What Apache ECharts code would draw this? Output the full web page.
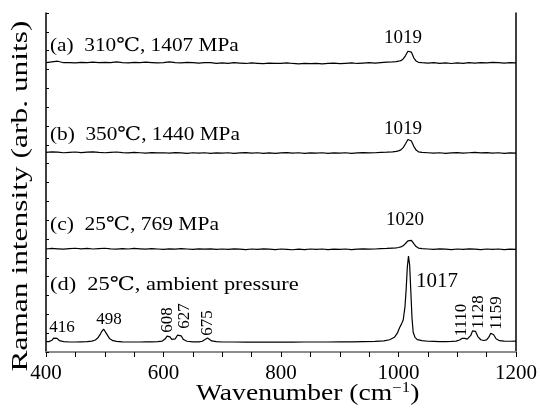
<!DOCTYPE html>
<html>
<head>
<meta charset="utf-8">
<script src="https://cdn.jsdelivr.net/npm/echarts@6/dist/echarts.min.js"></script>
<style>
  html, body { margin: 0; padding: 0; background: #fff; }
  #ramanChart { width: 540px; height: 410px; }
</style>
</head>
<body>
<div id="ramanChart"></div>
<script>
  // wavenumber grid shared by traces (a)-(c)
  const wnTop = [
    400, 410, 420, 430, 440, 450, 460, 470, 480, 490,
    500, 510, 520, 530, 540, 550, 560, 570, 580, 590,
    600, 610, 620, 630, 640, 650, 660, 670, 680, 690,
    700, 710, 720, 730, 740, 750, 760, 770, 780, 790,
    800, 810, 820, 830, 840, 850, 860, 870, 880, 890,
    900, 910, 920, 930, 940, 950, 960, 970, 980, 990,
    996, 1000, 1004, 1008, 1012, 1016, 1019, 1022, 1026, 1030, 1034, 1040,
    1050, 1060, 1070, 1080, 1090, 1100, 1110, 1120, 1130, 1140, 1150, 1160, 1170, 1180, 1190, 1200
  ];

  // (a) 310℃, 1407 MPa
  const traceA = [
    15.36, 15.40, 15.44, 15.36, 15.37, 15.35, 15.38, 15.36, 15.39, 15.37,
    15.38, 15.36, 15.40, 15.37, 15.35, 15.38, 15.36, 15.39, 15.37, 15.35,
    15.36, 15.40, 15.37, 15.35, 15.38, 15.36, 15.34, 15.37, 15.36, 15.33,
    15.35, 15.33, 15.36, 15.34, 15.32, 15.35, 15.33, 15.31, 15.34, 15.32,
    15.33, 15.35, 15.32, 15.30, 15.33, 15.31, 15.33, 15.30, 15.32, 15.34,
    15.31, 15.33, 15.35, 15.32, 15.34, 15.36, 15.34, 15.37, 15.39, 15.40,
    15.42, 15.44, 15.47, 15.56, 15.74, 15.97, 16.04, 15.92, 15.62, 15.45, 15.38, 15.36,
    15.34, 15.36, 15.33, 15.35, 15.32, 15.35, 15.33, 15.36, 15.34, 15.37, 15.35, 15.38, 15.36, 15.34, 15.36, 15.35
  ];

  // (b) 350℃, 1440 MPa
  const traceB = [
    10.60, 10.63, 10.61, 10.58, 10.60, 10.62, 10.59, 10.61, 10.63, 10.60,
    10.58, 10.60, 10.62, 10.59, 10.57, 10.60, 10.58, 10.56, 10.59, 10.57,
    10.58, 10.56, 10.59, 10.57, 10.55, 10.58, 10.56, 10.58, 10.55, 10.57,
    10.56, 10.58, 10.55, 10.57, 10.59, 10.56, 10.58, 10.55, 10.57, 10.55,
    10.57, 10.59, 10.56, 10.58, 10.55, 10.57, 10.56, 10.58, 10.55, 10.57,
    10.56, 10.58, 10.55, 10.57, 10.59, 10.57, 10.58, 10.60, 10.61, 10.63,
    10.65, 10.68, 10.73, 10.85, 11.06, 11.28, 11.33, 11.20, 10.92, 10.72, 10.63, 10.60,
    10.58, 10.56, 10.58, 10.55, 10.57, 10.59, 10.56, 10.58, 10.60, 10.57, 10.59, 10.56, 10.58, 10.55, 10.57, 10.56
  ];

  // (c) 25℃, 769 MPa
  const traceC = [
    5.47, 5.50, 5.48, 5.46, 5.49, 5.51, 5.48, 5.50, 5.47, 5.49,
    5.51, 5.48, 5.46, 5.49, 5.47, 5.50, 5.48, 5.46, 5.49, 5.47,
    5.45, 5.48, 5.46, 5.49, 5.47, 5.45, 5.48, 5.46, 5.48, 5.45,
    5.47, 5.45, 5.48, 5.46, 5.44, 5.47, 5.45, 5.48, 5.46, 5.44,
    5.47, 5.45, 5.43, 5.46, 5.44, 5.47, 5.45, 5.47, 5.44, 5.46,
    5.45, 5.47, 5.44, 5.46, 5.48, 5.46, 5.47, 5.49, 5.50, 5.52,
    5.53, 5.55, 5.58, 5.64, 5.76, 5.90, 5.96, 5.93, 5.76, 5.60, 5.52, 5.49,
    5.47, 5.45, 5.48, 5.46, 5.44, 5.47, 5.45, 5.48, 5.46, 5.44, 5.47, 5.45, 5.47, 5.44, 5.46, 5.45
  ];

  // (d) 25℃, ambient pressure
  const wnBottom = [
    400, 405, 410, 413, 416, 419, 423, 430, 440, 450, 460, 470, 478, 484, 488, 492, 495, 498, 501, 504,
    508, 514, 520, 530, 540, 550, 560, 570, 580, 590, 598, 603, 606, 608, 611, 614, 617, 620, 624, 627,
    630, 634, 640, 650, 660, 666, 670, 673, 675, 678, 682, 690, 700, 720, 740, 760, 780, 800, 820, 840,
    860, 880, 900, 920, 940, 960, 975, 985, 993, 998, 1002, 1005, 1008, 1011, 1013, 1015, 1017, 1019, 1021, 1023,
    1025, 1028, 1032, 1040, 1050, 1060, 1070, 1080, 1090, 1098, 1104, 1108, 1110, 1113, 1117, 1120, 1123, 1126, 1128, 1131,
    1135, 1140, 1145, 1150, 1154, 1157, 1159, 1162, 1166, 1172, 1180, 1190, 1200
  ];
  const traceD = [
    0.55, 0.55, 0.62, 0.74, 0.80, 0.72, 0.60, 0.55, 0.53, 0.53, 0.54, 0.55, 0.58, 0.64, 0.74, 0.92, 1.10, 1.22, 1.12, 0.92,
    0.72, 0.60, 0.56, 0.54, 0.53, 0.53, 0.53, 0.54, 0.54, 0.55, 0.58, 0.70, 0.84, 0.90, 0.80, 0.67, 0.64, 0.70, 0.90, 1.00,
    0.86, 0.66, 0.57, 0.54, 0.54, 0.57, 0.65, 0.72, 0.74, 0.68, 0.59, 0.55, 0.53, 0.53, 0.52, 0.53, 0.52, 0.53, 0.52, 0.53,
    0.53, 0.53, 0.54, 0.54, 0.55, 0.56, 0.59, 0.65, 0.78, 1.00, 1.30, 1.48, 1.70, 2.40, 3.30, 4.50, 5.10, 4.60, 3.20, 1.80,
    1.05, 0.78, 0.66, 0.60, 0.57, 0.56, 0.55, 0.55, 0.56, 0.58, 0.64, 0.72, 0.76, 0.72, 0.68, 0.72, 0.88, 1.12, 1.22, 1.10,
    0.82, 0.65, 0.61, 0.64, 0.80, 1.00, 1.06, 0.92, 0.70, 0.60, 0.58, 0.57, 0.58
  ];

  const xTicks = [400, 600, 800, 1000, 1200];
  const panelLabels = ['(a)  310℃, 1407 MPa', '(b)  350℃, 1440 MPa', '(c)  25℃, 769 MPa', '(d)  25℃, ambient pressure'];
  const topPeakLabels = ['1019', '1019', '1020'];
  const bottomPeakLabels = ['416', '498', '608', '627', '675', '1017', '1110', '1128', '1159'];
  const xTitle = 'Wavenumber (cm';
  const yTitle = 'Raman intensity (arb. units)';

  const serif = '"Liberation Serif", "DejaVu Serif", serif';

  function pairs(xs, ys) {
    return xs.map((x, i) => [x, ys[i]]);
  }

  function lineSeries(xs, ys) {
    return {
      type: 'line',
      data: pairs(xs, ys),
      symbol: 'none',
      lineStyle: {color: '#000', width: 1.2}
    };
  }

  /* text in pixels; sx widens Times-like glyphs toward the Computer Modern look */
  function txt(text, x, y, size, rot, sx, align) {
    return {
      type: 'text',
      x: x,
      y: y,
      rotation: rot || 0,
      scaleX: sx || 1,
      style: {
        text: text,
        font: size + 'px ' + serif,
        fill: '#000',
        align: align || 'center',
        verticalAlign: 'middle'
      }
    };
  }

  let chart = echarts.init(document.getElementById('ramanChart'));

  const ROT = Math.PI / 2;
  const graphicTexts = [
    txt(panelLabels[0], 50, 46, 19, 0, 1.12, 'left'),
    txt(panelLabels[1], 50, 135, 19, 0, 1.12, 'left'),
    txt(panelLabels[2], 50, 225, 19, 0, 1.13, 'left'),
    txt(panelLabels[3], 50, 285, 19, 0, 1.18, 'left'),
    txt(topPeakLabels[0], 403, 38, 19),
    txt(topPeakLabels[1], 403, 129, 19),
    txt(topPeakLabels[2], 405, 220, 19),
    txt(bottomPeakLabels[0], 62, 328, 17),
    txt(bottomPeakLabels[1], 109, 320, 17),
    txt(bottomPeakLabels[2], 168, 320, 17, ROT),
    txt(bottomPeakLabels[3], 185, 316, 17, ROT),
    txt(bottomPeakLabels[4], 208, 323, 17, ROT),
    txt(bottomPeakLabels[5], 437, 281, 21),
    txt(bottomPeakLabels[6], 462, 320, 17, ROT),
    txt(bottomPeakLabels[7], 479, 312, 17, ROT),
    txt(bottomPeakLabels[8], 497, 313, 17, ROT),
    // axis titles
    txt(yTitle, 21, 196, 24, ROT, 1.31),
    {
      type: 'text',
      x: 196,
      y: 394,
      scaleX: 1.2,
      style: {
        text: '{a|' + xTitle + '}{s|−1}{a|)}',
        rich: {
          a: {fontFamily: serif, fontSize: 23, fill: '#000'},
          s: {fontFamily: serif, fontSize: 14, fill: '#000', padding: [0, 0, 11, 0]}
        },
        align: 'left',
        verticalAlign: 'middle'
      }
    }
  ];

  chart.setOption({
    animation: false,
    backgroundColor: '#fff',
    grid: {left: 46, right: 21, top: 13, bottom: 58},
    xAxis: [
      {
        type: 'value',
        min: 400,
        max: 1200,
        interval: 200,
        axisLine: {lineStyle: {color: '#000', width: 1.5}},
        axisTick: {inside: false, length: 5, lineStyle: {color: '#000'}},
        minorTick: {show: true, splitNumber: 4, length: 5, lineStyle: {color: '#000'}},
        axisLabel: {
          fontFamily: serif, fontSize: 21, color: '#000', margin: 11,
          formatter: v => xTicks.indexOf(v) >= 0 ? String(v) : ''
        },
        splitLine: {show: false}
      },
      {
        type: 'value',
        position: 'top',
        min: 400,
        max: 1200,
        axisLine: {show: true, lineStyle: {color: '#8c8c8c', width: 2}},
        axisTick: {show: false},
        axisLabel: {show: false},
        splitLine: {show: false}
      }
    ],
    yAxis: [
      {
        type: 'value',
        min: 0,
        max: 18,
        interval: 1,
        axisLine: {show: true, lineStyle: {color: '#000', width: 1.5}},
        axisTick: {inside: true, length: 3, lineStyle: {color: '#000'}},
        axisLabel: {show: false},
        splitLine: {show: false}
      },
      {
        type: 'value',
        position: 'right',
        min: 0,
        max: 18,
        axisLine: {show: true, lineStyle: {color: '#000', width: 1.5}},
        axisTick: {show: false},
        axisLabel: {show: false},
        splitLine: {show: false}
      }
    ],
    series: [
      lineSeries(wnTop, traceA),
      lineSeries(wnTop, traceB),
      lineSeries(wnTop, traceC),
      lineSeries(wnBottom, traceD)
    ],
    graphic: graphicTexts
  });
</script>
</body>
</html>
